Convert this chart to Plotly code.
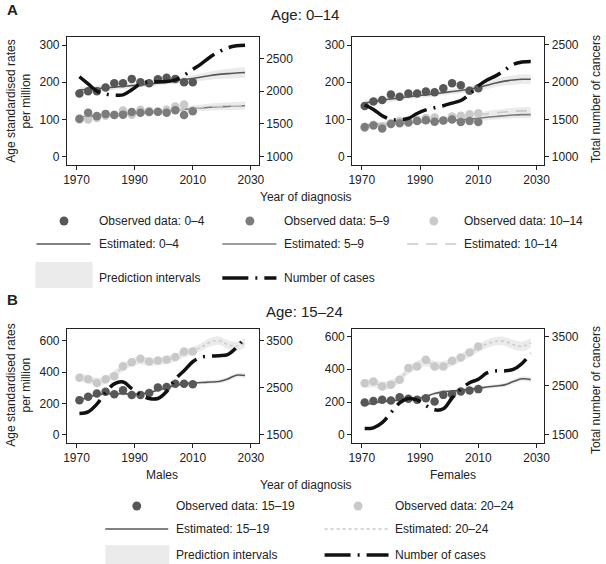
import plotly.graph_objects as go

W, H = 606, 564

# ---------------- data ----------------
obs_years = [1971, 1974, 1977, 1980, 1983, 1986, 1989, 1992, 1995, 1998, 2001, 2004, 2007, 2010]
est_years = [1971, 1974, 1977, 1980, 1983, 1986, 1989, 1992, 1995, 1998, 2001, 2004, 2007, 2010,
             2013, 2016, 2019, 2022, 2025, 2028]

# Panel A (age 0-14), left
aL_obs_0_4 = [170, 176, 176, 186, 197, 197, 209, 200, 197, 208, 212, 209, 200, 200]
aL_obs_5_9 = [102, 118, 109, 115, 112, 113, 120, 118, 120, 121, 118, 125, 112, 122]
aL_obs_10_14 = [100, 100, 104, 110, 113, 124, 113, 126, 123, 120, 126, 135, 140, 124]
aL_est_0_4 = [179, 181, 183, 185, 187, 189, 191, 193, 195, 198, 201, 204, 207, 210, 214, 218, 221, 223, 225, 226]
aL_pi_0_4 = [9, 8, 8, 8, 7, 7, 7, 7, 7, 7, 7, 8, 8, 9, 10, 11, 12, 13, 14, 14]
aL_est_5_9 = [106, 108, 110, 112, 113, 115, 117, 118, 120, 121, 123, 125, 127, 129, 131, 133, 134, 135, 136, 137]
aL_est_10_14 = [104, 106, 108, 110, 112, 114, 116, 118, 120, 122, 124, 126, 128, 130, 132, 134, 135, 136, 137, 138]
aL_pi_young = [7, 6, 6, 6, 5, 5, 5, 5, 5, 5, 5, 6, 6, 7, 8, 9, 9, 10, 10, 10]
aL_cases = [2219, 2110, 2000, 1955, 1940, 1942, 2020, 2110, 2143, 2143, 2145, 2170, 2240, 2330,
            2420, 2520, 2600, 2660, 2690, 2700]

# Panel A, right
aR_obs_0_4 = [136, 148, 152, 167, 161, 170, 170, 175, 173, 184, 197, 192, 177, 184]
aR_obs_5_9 = [80, 84, 76, 88, 90, 92, 96, 98, 94, 97, 100, 93, 96, 93]
aR_obs_10_14 = [77, 86, 82, 90, 96, 97, 99, 104, 105, 97, 108, 110, 114, 117]
aR_est_0_4 = [144, 148, 152, 155, 158, 161, 164, 166, 169, 172, 175, 178, 182, 186, 192, 198, 203, 206, 208, 208]
aR_pi_0_4 = [9, 8, 8, 8, 7, 7, 7, 7, 7, 7, 7, 8, 8, 9, 10, 11, 12, 13, 13, 13]
aR_est_5_9 = [84, 86, 88, 89, 91, 92, 93, 95, 96, 97, 98, 99, 101, 103, 106, 108, 110, 112, 113, 113]
aR_est_10_14 = [82, 84, 87, 89, 91, 93, 95, 97, 99, 101, 104, 106, 109, 112, 115, 118, 120, 122, 123, 123]
aR_pi_young = [7, 6, 6, 6, 5, 5, 5, 5, 5, 5, 5, 6, 6, 7, 8, 8, 9, 9, 10, 10]
aR_cases = [1694, 1635, 1550, 1500, 1497, 1515, 1580, 1628, 1658, 1685, 1720, 1755, 1840, 1950,
            2030, 2085, 2160, 2240, 2272, 2278]

# Panel B (age 15-24), males
bL_obs_15_19 = [221, 242, 263, 274, 259, 284, 253, 253, 267, 301, 305, 326, 326, 322]
bL_obs_20_24 = [364, 354, 330, 354, 373, 436, 463, 484, 467, 474, 478, 495, 530, 530]
bL_est_15_19 = [222, 240, 255, 262, 262, 261, 260, 262, 270, 285, 300, 315, 325, 330, 333, 336, 340, 355, 380, 378]
bL_pi_15_19 = [12, 11, 10, 10, 10, 10, 10, 10, 10, 10, 10, 10, 10, 10, 11, 11, 12, 13, 14, 15]
bL_est_20_24 = [368, 355, 338, 350, 385, 430, 460, 475, 465, 468, 478, 492, 518, 535, 560, 590, 600, 575, 565, 585]
bL_pi_20_24 = [25, 25, 25, 25, 25, 25, 25, 25, 25, 25, 25, 25, 25, 25, 25, 26, 27, 28, 29, 30]
bL_cases = [1950, 1985, 2150, 2400, 2580, 2620, 2480, 2350, 2270, 2270, 2420, 2680, 2860, 3050,
            3150, 3170, 3180, 3200, 3350, 3570]

# Panel B, females
bR_obs_15_19 = [197, 207, 214, 210, 230, 220, 214, 224, 203, 244, 248, 264, 270, 279]
bR_obs_20_24 = [315, 325, 295, 305, 336, 407, 417, 458, 417, 417, 452, 472, 502, 539]
bR_est_15_19 = [185, 195, 203, 208, 212, 215, 220, 235, 252, 262, 267, 272, 278, 285, 292, 298, 305, 325, 342, 338]
bR_pi_15_19 = [12, 11, 10, 10, 10, 10, 10, 10, 10, 10, 10, 10, 10, 10, 11, 11, 12, 13, 14, 15]
bR_est_20_24 = [312, 315, 300, 310, 340, 395, 425, 445, 425, 425, 445, 470, 500, 530, 555, 570, 570, 550, 540, 560]
bR_pi_20_24 = [25, 25, 25, 25, 25, 25, 25, 25, 25, 25, 25, 25, 25, 25, 25, 26, 27, 28, 29, 30]
bR_cases = [1630, 1645, 1750, 1950, 2150, 2240, 2210, 2100, 2010, 2030, 2250, 2430, 2560, 2630,
            2760, 2800, 2800, 2830, 2950, 3150]

x_ticks = [1970, 1990, 2010, 2030]
yA_ticks = [0, 100, 200, 300]
yA_right_ticks = [1000, 1500, 2000, 2500]
yB_ticks = [0, 200, 400, 600]
yB_right_ticks = [1500, 2500, 3500]

# ---------------- styles ----------------
DARK = "#575757"
MID = "#7c7c7c"
LIGHT = "#c9c9c9"
BAND = "#ebebeb"
CASES_DASH = "26px,7px,2px,7px"
DASH_1014 = "11px,8px"
FONT = "Liberation Sans, Arial, sans-serif"


def px(x):
    return x / W


def py(y):
    return 1 - y / H


fig = go.Figure()


def add_band(idx, est, hw):
    lo = [e - h for e, h in zip(est, hw)]
    hi = [e + h for e, h in zip(est, hw)]
    fig.add_trace(go.Scatter(x=est_years, y=lo, mode="lines", line=dict(width=0, shape="spline"),
                             xaxis=f"x{idx}", yaxis=f"y{idx}", showlegend=False, hoverinfo="skip"))
    fig.add_trace(go.Scatter(x=est_years, y=hi, mode="lines", line=dict(width=0, shape="spline"),
                             fill="tonexty", fillcolor=BAND,
                             xaxis=f"x{idx}", yaxis=f"y{idx}", showlegend=False, hoverinfo="skip"))


def add_line(idx, est, color, dash="solid", width=1.6):
    fig.add_trace(go.Scatter(x=est_years, y=est, mode="lines",
                             line=dict(color=color, width=width, dash=dash, shape="spline"),
                             xaxis=f"x{idx}", yaxis=f"y{idx}", showlegend=False))


def add_obs(idx, vals, color):
    fig.add_trace(go.Scatter(x=obs_years, y=vals, mode="markers",
                             marker=dict(color=color, size=8.5, line=dict(width=0)),
                             xaxis=f"x{idx}", yaxis=f"y{idx}", showlegend=False))


def add_cases(idx, vals):
    fig.add_trace(go.Scatter(x=est_years, y=vals, mode="lines",
                             line=dict(color="#111111", width=3.5, dash=CASES_DASH, shape="spline"),
                             xaxis=f"x{idx}", yaxis=f"y{idx + 4}", showlegend=False))


# Panel 1: A left
add_band(1, aL_est_0_4, aL_pi_0_4)
add_band(1, aL_est_5_9, aL_pi_young)
add_band(1, aL_est_10_14, aL_pi_young)
add_line(1, aL_est_0_4, DARK)
add_line(1, aL_est_5_9, MID)
add_line(1, aL_est_10_14, LIGHT, dash=DASH_1014)
add_obs(1, aL_obs_10_14, LIGHT)
add_obs(1, aL_obs_5_9, MID)
add_obs(1, aL_obs_0_4, DARK)
add_cases(1, aL_cases)

# Panel 2: A right
add_band(2, aR_est_0_4, aR_pi_0_4)
add_band(2, aR_est_5_9, aR_pi_young)
add_band(2, aR_est_10_14, aR_pi_young)
add_line(2, aR_est_0_4, DARK)
add_line(2, aR_est_5_9, MID)
add_line(2, aR_est_10_14, LIGHT, dash=DASH_1014)
add_obs(2, aR_obs_10_14, LIGHT)
add_obs(2, aR_obs_5_9, MID)
add_obs(2, aR_obs_0_4, DARK)
add_cases(2, aR_cases)

# Panel 3: B males
add_band(3, bL_est_20_24, bL_pi_20_24)
add_band(3, bL_est_15_19, bL_pi_15_19)
add_line(3, bL_est_20_24, LIGHT, dash="dot", width=1.4)
add_line(3, bL_est_15_19, DARK)
add_obs(3, bL_obs_20_24, LIGHT)
add_obs(3, bL_obs_15_19, DARK)
add_cases(3, bL_cases)

# Panel 4: B females
add_band(4, bR_est_20_24, bR_pi_20_24)
add_band(4, bR_est_15_19, bR_pi_15_19)
add_line(4, bR_est_20_24, LIGHT, dash="dot", width=1.4)
add_line(4, bR_est_15_19, DARK)
add_obs(4, bR_obs_20_24, LIGHT)
add_obs(4, bR_obs_15_19, DARK)
add_cases(4, bR_cases)

# ---------------- axes ----------------
x_dom_left = [px(64), px(259)]
x_dom_right = [px(354), px(549.5)]
y_dom_top = [py(165), py(37)]
y_dom_bot = [py(443), py(329)]

panels = {
    1: dict(xd=x_dom_left, yd=y_dom_top, yr=[-22.3, 321.5], yt=yA_ticks, y2r=[873, 2825], y2t=yA_right_ticks),
    2: dict(xd=x_dom_right, yd=y_dom_top, yr=[-22.3, 321.5], yt=yA_ticks, y2r=[889, 2607], y2t=yA_right_ticks),
    3: dict(xd=x_dom_left, yd=y_dom_bot, yr=[-52, 674], yt=yB_ticks, y2r=[1325, 3746], y2t=yB_right_ticks),
    4: dict(xd=x_dom_right, yd=y_dom_bot, yr=[-49, 645], yt=yB_ticks, y2r=[1337, 3650], y2t=yB_right_ticks),
}

common = dict(showgrid=False, zeroline=False, showline=True, linecolor="#222", linewidth=1,
              ticks="outside", ticklen=4, tickcolor="#222", tickwidth=1,
              tickfont=dict(size=12, color="#222", family=FONT))

layout_axes = {}
for i, p in panels.items():
    layout_axes[f"xaxis{i}"] = dict(domain=p["xd"], range=[1966.7, 2032.7], tickvals=x_ticks,
                                    anchor=f"y{i}", mirror=True, **common)
    layout_axes[f"yaxis{i}"] = dict(domain=p["yd"], range=p["yr"], tickvals=p["yt"],
                                    anchor=f"x{i}", side="left", **common)
    layout_axes[f"yaxis{i + 4}"] = dict(range=p["y2r"], tickvals=p["y2t"], overlaying=f"y{i}",
                                        anchor=f"x{i}", side="right", **common)

fig.update_layout(**layout_axes)

# ---------------- text ----------------
ann = []


def text(x, y, s, size=12, xanchor="center", angle=0, bold=False):
    ann.append(dict(x=px(x), y=py(y), xref="paper", yref="paper", text=f"<b>{s}</b>" if bold else s,
                    showarrow=False, xanchor=xanchor, yanchor="middle", textangle=angle,
                    font=dict(size=size, color="#222", family=FONT)))


text(9, 10, "A", size=15, bold=True)
text(9, 299, "B", size=15, bold=True)
text(306, 15, "Age: 0–14", size=15)
text(306, 311, "Age: 15–24", size=15)
text(15, 101, "Age standardised rates<br>per million", angle=-90)
text(15, 385, "Age standardised rates<br>per million", angle=-90)
text(602, 99, "Total number of cancers", angle=-90)
text(602, 390, "Total number of cancers", angle=-90)
text(307, 197, "Year of diagnosis")
text(307, 485, "Year of diagnosis")
text(161, 475, "Males")
text(457, 475, "Females")

shapes = []


def leg_marker(cx, cy, color):
    shapes.append(dict(type="circle", xref="paper", yref="paper", x0=px(cx - 4.5), x1=px(cx + 4.5),
                       y0=py(cy + 4.5), y1=py(cy - 4.5), fillcolor=color, line=dict(width=0)))


def leg_line(x0, x1, cy, color, width=1.6, dash="solid"):
    shapes.append(dict(type="line", xref="paper", yref="paper", x0=px(x0), x1=px(x1),
                       y0=py(cy), y1=py(cy), line=dict(color=color, width=width, dash=dash)))


def leg_box(x0, x1, y0, y1):
    shapes.append(dict(type="rect", xref="paper", yref="paper", x0=px(x0), x1=px(x1),
                       y0=py(y1), y1=py(y0), fillcolor=BAND, line=dict(width=0)))


# Legend A
leg_marker(61, 221, DARK); text(95, 221, "Observed data: 0–4", xanchor="left")
leg_marker(250, 221, MID); text(283, 221, "Observed data: 5–9", xanchor="left")
leg_marker(437, 221, LIGHT); text(466, 221, "Observed data: 10–14", xanchor="left")
leg_line(33, 88, 244, DARK); text(95, 244, "Estimated: 0–4", xanchor="left")
leg_line(222, 277, 244, MID); text(283, 244, "Estimated: 5–9", xanchor="left")
leg_line(410, 460, 244, LIGHT, dash=DASH_1014); text(466, 244, "Estimated: 10–14", xanchor="left")
leg_box(32, 90, 262, 288); text(95, 278, "Prediction intervals", xanchor="left")
leg_line(222, 277, 278, "#111111", width=3.5, dash=CASES_DASH); text(283, 278, "Number of cases", xanchor="left")

# Legend B
leg_marker(135, 506, DARK); text(173, 506, "Observed data: 15–19", xanchor="left")
leg_marker(360, 506, LIGHT); text(396, 506, "Observed data: 20–24", xanchor="left")
leg_line(103, 167, 529, DARK); text(173, 529, "Estimated: 15–19", xanchor="left")
leg_line(326, 391, 529, LIGHT, width=1.4, dash="dot"); text(396, 529, "Estimated: 20–24", xanchor="left")
leg_box(103, 168, 545, 565); text(173, 555, "Prediction intervals", xanchor="left")
leg_line(326, 391, 555, "#111111", width=3.5, dash=CASES_DASH); text(396, 555, "Number of cases", xanchor="left")

fig.update_layout(
    width=W, height=H,
    margin=dict(l=0, r=0, t=0, b=0),
    paper_bgcolor="white", plot_bgcolor="white",
    font=dict(family=FONT, size=12, color="#222"),
    showlegend=False,
    annotations=ann,
    shapes=shapes,
)

fig.write_html("out.html", config={"displayModeBar": False},
               post_script="document.body.style.margin='0px';document.body.style.padding='0px';")
